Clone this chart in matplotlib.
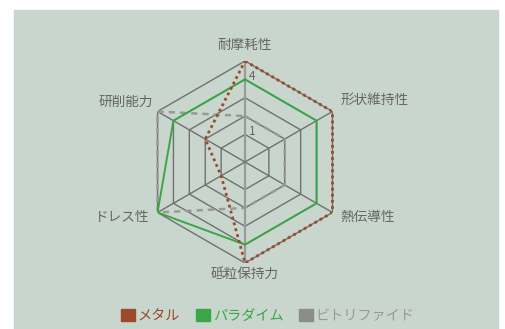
import numpy as np
import matplotlib
matplotlib.use("Agg")
import matplotlib.pyplot as plt
from matplotlib.patches import Rectangle, Patch

plt.rcParams['font.family'] = ['Noto Sans CJK JP', 'DejaVu Sans']

# data
categories = ['耐摩耗性', '形状維持性', '熱伝導性', '砥粒保持力', 'ドレス性', '研削能力']
series_names = ['メタル', 'パラダイム', 'ビトリファイド']
metal = [5, 5, 5, 5, 1, 2]
paradigm = [4, 4, 4, 4, 5, 4]
vitrified = [2, 2, 2, 2, 5, 5]
ring_levels = [1, 2, 3, 4, 5]
ring_labels = {1: '1', 4: '4'}

bg = '#c9d6cd'
grid_col = '#707070'
text_col = '#666666'
metal_col = '#9c4a2b'
green_col = '#3ba647'
gray_col = '#999999'

W, H = 505, 329
fig = plt.figure(figsize=(W / 100, H / 100), dpi=100)
fig.patches.append(Rectangle((14 / W, 0), (498 - 14) / W, (H - 10) / H,
                             transform=fig.transFigure, color=bg, zorder=-10))

# polar axes placed so the outer ring has ~101px radius
cx, cy, rad = 245 / W, 1 - 162 / H, 101
ax = fig.add_axes([cx - rad / W, cy - rad / H, 2 * rad / W, 2 * rad / H], polar=True)
ax.set_theta_offset(np.pi / 2)
ax.set_theta_direction(-1)
ax.set_ylim(-0.5, 5)
ax.patch.set_alpha(0)
ax.spines['polar'].set_visible(False)
ax.grid(False)
ax.set_xticks([])
ax.set_yticks([])

n = len(categories)
angles = np.arange(n) * 2 * np.pi / n
closed = np.append(angles, angles[0])

# rings
for lv in ring_levels:
    ax.plot(closed, [lv] * (n + 1), color=grid_col, lw=1.0, zorder=1)
# spokes
for i, a in enumerate(angles):
    if i in (0, 3):
        ax.plot([a, a], [-0.5, 5], color='#9a9a9a', lw=1.6, zorder=1)
    else:
        ax.plot([a, a], [-0.5, 5], color=grid_col, lw=1.0, zorder=1)

def close(v):
    return list(v) + [v[0]]

ax.plot(closed, close(vitrified), color=gray_col, lw=1.8, ls=(0, (2.5, 2)), zorder=3)
ax.plot(closed, close(paradigm), color=green_col, lw=1.4, zorder=4)
ax.plot(closed, close(metal), color=metal_col, lw=2.0, ls=(0, (1, 1.2)), zorder=5)

# ring value labels
for lv, lab in ring_labels.items():
    ax.annotate(lab, (0, lv), xytext=(4, 3), textcoords='offset pixels',
                ha='left', va='center', fontsize=8.5, color=text_col)

# category labels
label_pos = [
    (5.85, 'center', 'center'),
    (5.5, 'left', 'bottom'),
    (5.5, 'left', 'center'),
    (5.6, 'center', 'center'),
    (5.5, 'right', 'center'),
    (5.3, 'right', 'bottom'),
]
for a, cat, (r, ha, va) in zip(angles, categories, label_pos):
    ax.text(a, r, cat, ha=ha, va=va, fontsize=9.8, color=text_col)

# legend
handles = [Patch(color=metal_col), Patch(color=green_col), Patch(color='#8c8c8c')]
leg = fig.legend(handles, series_names, loc='center', bbox_to_anchor=(0.53, 0.04),
                 ncol=3, frameon=False, fontsize=10.2, handlelength=1.0, handleheight=1.0,
                 handletextpad=0.2, columnspacing=1.1,
                 labelcolor=[metal_col, green_col, gray_col])

fig.savefig('out.png', dpi=100)
